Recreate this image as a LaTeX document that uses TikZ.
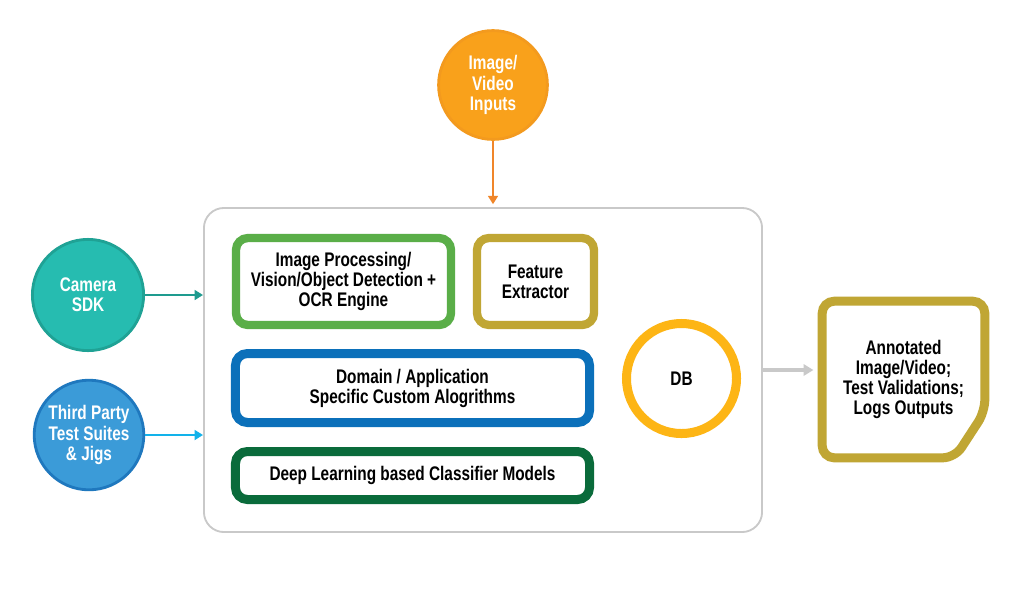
\documentclass[tikz,border=0pt]{standalone}
\usepackage{fontspec}
\setmainfont[FakeStretch=0.78]{Liberation Sans}
\usetikzlibrary{arrows.meta,calc}
\definecolor{cOrange}{HTML}{F9A11B}
\definecolor{cOrangeRim}{HTML}{F39A1E}
\definecolor{cOrangeArr}{HTML}{F0862A}
\definecolor{cTeal}{HTML}{26BCB0}
\definecolor{cTealRim}{HTML}{1FA295}
\definecolor{cTealArr}{HTML}{1E9B8F}
\definecolor{cBlueC}{HTML}{3B9BD8}
\definecolor{cBlueRim}{HTML}{1F78BE}
\definecolor{cCyanArr}{HTML}{12B2EA}
\definecolor{cGreen}{HTML}{5AAE48}
\definecolor{cOlive}{HTML}{C0A634}
\definecolor{cBlue}{HTML}{0B70BA}
\definecolor{cDkGreen}{HTML}{0A6B3B}
\definecolor{cYellow}{HTML}{FDB515}
\definecolor{cGray}{HTML}{C9C9C9}
\tikzset{
  lbl/.style={font=\bfseries\fontsize{14}{14.3}\selectfont, align=center, text=black},
  boxA/.style={lbl, draw, rectangle, rounded corners=0.3cm, line width=5.9pt, fill=white, inner sep=0pt},
  srccirc/.style={circle, inner sep=0pt, line width=2pt, font=\bfseries\fontsize{14}{14.3}\selectfont, align=center, text=white},
  arr/.style={line width=1.5pt, -{Triangle[width=7pt,length=6pt]}},
}
\begin{document}
\begin{tikzpicture}[x=0.025cm,y=-0.025cm]
\useasboundingbox[fill=white] (0,0) rectangle (1024,600);
% main container
\node[draw=cGray, line width=1.3pt, rounded corners=0.5cm, minimum width=13.95cm, minimum height=8.1cm, inner sep=0pt] (main) at (483,370) {};
% inner boxes
\node[boxA, draw=cGreen, minimum width=5.375cm, minimum height=2.175cm] (proc) at (343.5,281.5) {Image Processing/\\Vision/Object Detection +\\OCR Engine};
\node[boxA, draw=cOlive, minimum width=2.925cm, minimum height=2.175cm] (feat) at (535.5,281.5) {Feature\\Extractor};
\node[boxA, draw=cBlue, line width=6.4pt, minimum width=8.85cm, minimum height=1.725cm] (dom) at (412.5,388) {Domain / Application\\Specific Custom Alogrithms};
\node[boxA, draw=cDkGreen, line width=6.4pt, minimum width=8.85cm, minimum height=1.2cm] (deep) at (412.5,475.5) {Deep Learning based Classifier Models};
\node[lbl, circle, draw=cYellow, line width=6.4pt, minimum size=2.75cm, inner sep=0pt] (db) at (681.5,378.5) {DB};
% sources
\node[srccirc, fill=cOrange, draw=cOrangeRim, minimum size=2.72cm] (inp) at (493,85) {Image/\\Video\\Inputs};
\node[srccirc, fill=cTeal, draw=cTealRim, minimum size=2.78cm] (cam) at (88,295) {Camera\\SDK};
\node[srccirc, fill=cBlueC, draw=cBlueRim, minimum size=2.74cm] (tp) at (89,435) {Third Party\\Test Suites\\\& Jigs};
% output
\node[lbl, minimum width=4.05cm, minimum height=3.9cm, inner sep=0pt] (out) at (903.5,379.5) {Annotated\\Image/Video;\\Test Validations;\\Logs Outputs};
\draw[cOlive, line width=6.4pt, rounded corners=0.3cm]
  (out.north west) -- (out.north east) -- ([yshift=1.15cm]out.south east)
  -- ([xshift=-0.75cm]out.south east) -- (out.south west) -- cycle;
% connectors
\draw[arr, cOrangeArr] (inp.south) -- ([yshift=2pt]inp.south |- main.north);
\draw[arr, cTealArr] (cam.east) -- (cam.east -| main.west);
\draw[arr, cCyanArr] (tp.east) -- (tp.east -| main.west);
\draw[cGray, line width=2.2pt, -{Triangle[width=8pt,length=7pt]}, shorten >=0.22cm] (main.east) -- (main.east -| out.west);
\end{tikzpicture}
\end{document}
